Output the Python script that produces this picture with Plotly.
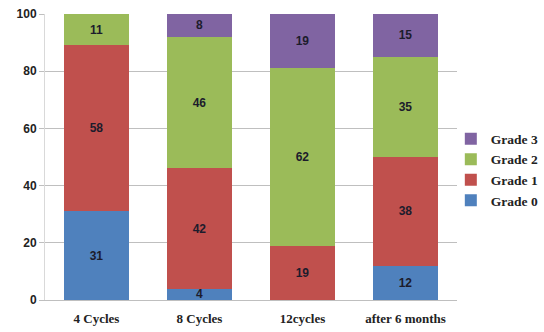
import plotly.graph_objects as go

categories = ["4 Cycles", "8 Cycles", "12cycles", "after 6 months"]
grade0 = [31, 4, 0, 12]
grade1 = [58, 42, 19, 38]
grade2 = [11, 46, 62, 35]
grade3 = [0, 8, 19, 15]

series = [
    ("Grade 0", grade0, "#4F81BD"),
    ("Grade 1", grade1, "#C0504D"),
    ("Grade 2", grade2, "#9BBB59"),
    ("Grade 3", grade3, "#8064A2"),
]

fig = go.Figure()
for name, vals, color in series:
    fig.add_trace(go.Bar(
        name=name,
        legendgroup=name,
        x=categories,
        y=vals,
        marker=dict(color=color, line=dict(width=0)),
        text=[str(v) if v else "" for v in vals],
        textposition="inside",
        insidetextanchor="middle",
        textangle=0,
        textfont=dict(family="Liberation Sans, Arial", size=12, color="#1c1c2c", weight="bold"),
    ))

fig.update_layout(
    barmode="stack",
    bargap=0.37,
    width=544,
    height=332,
    margin=dict(l=45, r=87, t=14, b=32, autoexpand=False),
    paper_bgcolor="white",
    plot_bgcolor="white",
    uniformtext=dict(minsize=8, mode="show"),
    legend=dict(
        traceorder="reversed",
        x=0.985, xanchor="left",
        y=0.455, yanchor="middle",
        font=dict(family="Liberation Serif, Times New Roman", size=13.5, color="#222222", weight="bold"),
        itemwidth=30,
        tracegroupgap=5,
        bgcolor="rgba(0,0,0,0)",
    ),
    xaxis=dict(
        showline=True, linecolor="#bfbfbf", linewidth=1,
        ticks="", showgrid=False,
        ticklabelstandoff=6,
        tickfont=dict(family="Liberation Serif, Times New Roman", size=13, color="#222222", weight="bold"),
    ),
    yaxis=dict(
        range=[0, 100], dtick=20,
        showgrid=True, gridcolor="#bfbfbf", gridwidth=1,
        showline=True, linecolor="#d9d9d9", linewidth=1,
        ticks="outside", ticklen=5, tickcolor="#bfbfbf",
        zeroline=False,
        tickfont=dict(family="Liberation Sans, Arial", size=12, color="#222222", weight="bold"),
    ),
)

fig.write_html("out.html")
